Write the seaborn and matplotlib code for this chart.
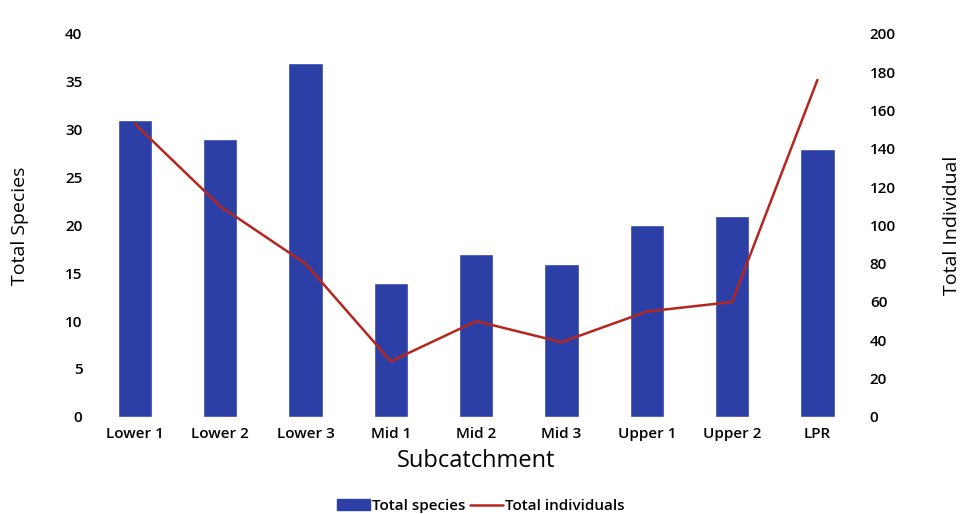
import pandas as pd
import seaborn as sns
import matplotlib.pyplot as plt
from matplotlib.patches import Patch
from matplotlib.lines import Line2D

# values
subcatchments = ['Lower 1', 'Lower 2', 'Lower 3', 'Mid 1', 'Mid 2', 'Mid 3', 'Upper 1', 'Upper 2', 'LPR']
total_species = [31, 29, 37, 14, 17, 16, 20, 21, 28]
total_individuals = [153, 110, 80, 29, 50, 39, 55, 60, 176]

df = pd.DataFrame({'Subcatchment': subcatchments,
                   'Total species': total_species,
                   'Total individuals': total_individuals})

sns.set_style("white")
plt.rcParams['font.family'] = ['Open Sans', 'DejaVu Sans']
plt.rcParams['text.color'] = 'black'
plt.rcParams['axes.labelcolor'] = 'black'
plt.rcParams['xtick.color'] = 'black'
plt.rcParams['ytick.color'] = 'black'

bar_color = '#2B3FA6'
line_color = '#B5261E'

fig = plt.figure(figsize=(9.61, 5.14), dpi=100)
ax = fig.add_axes([0.096, 0.189, 0.799, 0.745])

sns.barplot(data=df, x='Subcatchment', y='Total species', color=bar_color,
            width=0.4, saturation=1, ax=ax)
ax.set_ylim(0, 40)
ax.set_yticks(range(0, 41, 5))
ax.set_xlim(-0.5, 8.5)
ax.set_ylabel('Total Species', fontsize=14, labelpad=26)
ax.set_xlabel('Subcatchment', fontsize=17, labelpad=6)

# second axis for individuals
ax2 = ax.twinx()
sns.lineplot(data=df, x='Subcatchment', y='Total individuals', color=line_color,
             linewidth=1.8, sort=False, ax=ax2)
ax2.set_ylim(0, 200)
ax2.set_yticks(range(0, 201, 20))
ax2.set_xlim(-0.5, 8.5)
ax2.set_ylabel('Total Individual', fontsize=14, labelpad=34)

for a in (ax, ax2):
    for s in a.spines.values():
        s.set_visible(False)
    a.tick_params(length=0, labelsize=11, pad=7)
    for lbl in a.get_xticklabels() + a.get_yticklabels():
        lbl.set_fontweight('semibold')

handles = [Patch(color=bar_color), Line2D([0], [0], color=line_color, linewidth=1.8)]
fig.legend(handles, ['Total species', 'Total individuals'], loc='lower center',
           bbox_to_anchor=(0.5, -0.025), ncol=2, frameon=False, handlelength=2.2,
           handletextpad=0.1, columnspacing=0.3, prop={'size': 11, 'weight': 'semibold'})

fig.savefig('out.png', dpi=100)
